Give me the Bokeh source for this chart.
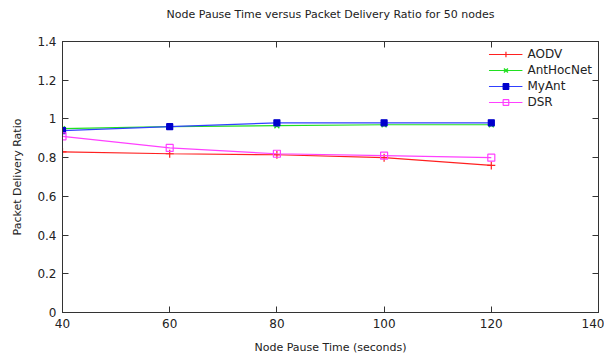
from bokeh.plotting import figure
from bokeh.models import LinearAxis, Range1d, FixedTicker, Legend, LegendItem, Title
from bokeh.embed import file_html
from bokeh.resources import INLINE

pause_time = [40, 60, 80, 100, 120]
aodv = [0.83, 0.82, 0.815, 0.80, 0.76]
anthocnet = [0.95, 0.96, 0.965, 0.97, 0.97]
myant = [0.94, 0.96, 0.98, 0.98, 0.98]
dsr = [0.91, 0.85, 0.82, 0.81, 0.80]

x_ticks = [40, 60, 80, 100, 120, 140]
y_ticks = [0, 0.2, 0.4, 0.6, 0.8, 1.0, 1.2, 1.4]
y_tick_labels = ["0", "0.2", "0.4", "0.6", "0.8", "1", "1.2", "1.4"]

FONT = "DejaVu Sans"

p = figure(width=604, height=356, output_backend="svg", toolbar_location=None,
           x_range=Range1d(40, 140), y_range=Range1d(0, 1.4),
           min_border_left=62, min_border_right=6, min_border_top=40, min_border_bottom=44)
p.title = None
p.grid.visible = False
p.outline_line_color = "#333333"
p.outline_line_width = 1

def style_axis(ax):
    ax.major_tick_in = 6
    ax.major_tick_out = 0
    ax.minor_tick_in = 0
    ax.minor_tick_out = 0
    ax.axis_line_color = "#333333"
    ax.major_tick_line_color = "#333333"
    ax.major_label_text_font = FONT
    ax.major_label_text_font_size = "12px"
    ax.major_label_text_color = "#222222"
    ax.axis_label_text_font = FONT
    ax.axis_label_text_font_size = "11px"
    ax.axis_label_text_font_style = "normal"
    ax.axis_label_text_color = "#222222"

p.xaxis.ticker = FixedTicker(ticks=x_ticks)
p.yaxis.ticker = FixedTicker(ticks=y_ticks)
p.yaxis.major_label_overrides = {t: l for t, l in zip(y_ticks, y_tick_labels)}
p.xaxis.axis_label = "Node Pause Time (seconds)"
p.yaxis.axis_label = "Packet Delivery Ratio"
style_axis(p.xaxis[0])
style_axis(p.yaxis[0])
p.xaxis.major_label_standoff = 6
p.xaxis.axis_label_standoff = 10
p.yaxis.major_label_standoff = 6
p.yaxis.axis_label_standoff = 10

top = LinearAxis(ticker=FixedTicker(ticks=x_ticks))
style_axis(top)
top.major_label_overrides = {t: "\u00a0" for t in x_ticks}
top.major_label_text_font_size = "11px"
top.major_label_standoff = 0
p.add_layout(top, "above")
p.add_layout(Title(text="Node Pause Time versus Packet Delivery Ratio for 50 nodes",
                   align="center", text_font=FONT, text_font_size="11px",
                   text_font_style="normal", text_color="#222222"), "above")
right = LinearAxis(ticker=FixedTicker(ticks=y_ticks))
style_axis(right)
right.major_label_overrides = {t: "" for t in y_ticks}
right.major_label_standoff = 0
p.add_layout(right, "right")

items = []
r1 = p.line(pause_time, aodv, line_color="#ff2020", line_width=1.2)
m1 = p.scatter(pause_time, aodv, marker="cross", size=8, line_color="#ff2020", line_width=1.2)
items.append(LegendItem(label="AODV", renderers=[r1, m1]))
r2 = p.line(pause_time, anthocnet, line_color="#20e020", line_width=1.2)
m2 = p.scatter(pause_time, anthocnet, marker="x", size=7, line_color="#20e020", line_width=1.4)
items.append(LegendItem(label="AntHocNet", renderers=[r2, m2]))
r3 = p.line(pause_time, myant, line_color="#3040ff", line_width=1.2)
m3 = p.scatter(pause_time, myant, marker="square_x", size=6, line_color="#0000cc",
               fill_color="#0000cc", line_width=1.2)
items.append(LegendItem(label="MyAnt", renderers=[r3, m3]))
r4 = p.line(pause_time, dsr, line_color="#ff40ff", line_width=1.2)
m4 = p.scatter(pause_time, dsr, marker="square", size=7, line_color="#ff40ff",
               fill_color=None, line_width=1.2)
items.append(LegendItem(label="DSR", renderers=[r4, m4]))

legend = Legend(items=items, location="top_right", border_line_color=None,
                background_fill_alpha=0, label_text_font=FONT, label_text_font_size="12px",
                label_text_color="#222222", glyph_width=34, glyph_height=14,
                label_height=14, spacing=2, padding=4, margin=6)
p.add_layout(legend)

open("out.html", "w").write(file_html(p, INLINE))
